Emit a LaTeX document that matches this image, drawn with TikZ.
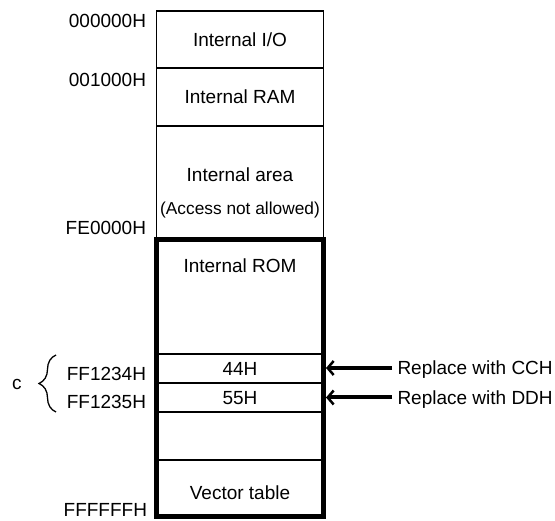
\documentclass[tikz,border=0pt]{standalone}
\usepackage{fontspec}
\setmainfont{Liberation Sans}
\usetikzlibrary{arrows.meta,decorations.pathreplacing}
\begin{document}
\begin{tikzpicture}[x=1pt,y=-1pt,
  every node/.style={inner sep=0pt, outer sep=0pt},
  txt/.style={font=\fontsize{19}{22}\selectfont, text height=13.6pt, text depth=0pt},
  cell/.style={draw, line width=1.3pt, minimum width=167pt},
  addr/.style={txt, anchor=east},
  repl/.style={txt, anchor=west},
  arr/.style={line width=4pt, -{Straight Barb[length=6pt,width=14pt,line width=2.5pt]}},
  bracestyle/.style={line width=1.3pt, decorate, decoration={brace, amplitude=17pt}}]
\useasboundingbox (0,0) rectangle (555,521);
% upper area
\node[cell, txt, minimum height=57pt] (io) at (240,39.5) {Internal I/O};
\node[cell, txt, minimum height=58pt] (ram) at (240,97) {Internal RAM};
\node[cell, minimum height=114pt] (area) at (240,183) {};
\node[txt] (areat) at (240,175.2) {Internal area};
\node[txt, font=\fontsize{17.3}{20}\selectfont, text height=12.4pt] (acc) at (240,208.8) {(Access not allowed)};
% ROM area
\node[cell, txt, minimum height=29pt] (c44) at (240,368.5) {44H};
\node[cell, txt, minimum height=29pt] (c55) at (240,397.5) {55H};
\node[cell, minimum height=57pt] (vec) at (240,488.5) {};
\node[txt] (vect) at (240,493.2) {Vector table};
\node[txt] (romt) at (240,266.2) {Internal ROM};
\node[draw, line width=5pt, minimum width=167pt, minimum height=277pt, outer sep=2.5pt] (rom) at (240,378.5) {};
% addresses
\node[addr] (a0) at (146,21.2) {000000H};
\node[addr] (a1) at (146,80.2) {001000H};
\node[addr] (a2) at (146,228.2) {FE0000H};
\node[addr] (a3) at (146,374.2) {FF1234H};
\node[addr] (a4) at (146,402.2) {FF1235H};
\node[addr] (a5) at (147,509.5) {FFFFFFH};
% brace
\coordinate (bt) at (56,355);
\coordinate (bb) at (56,412);
\draw[bracestyle] (bb) -- (bt);
\node[font=\fontsize{19}{22}\selectfont] (c) at (17,384) {c};
% replace notes
\node[repl] (r1) at (397.5,368) {Replace with CCH};
\node[repl] (r2) at (397.5,397.5) {Replace with DDH};
\draw[arr] ([xshift=-5.5pt]r1.west) -- (rom.east |- r1.west);
\draw[arr] ([xshift=-5.5pt]r2.west) -- (rom.east |- r2.west);
\end{tikzpicture}
\end{document}
